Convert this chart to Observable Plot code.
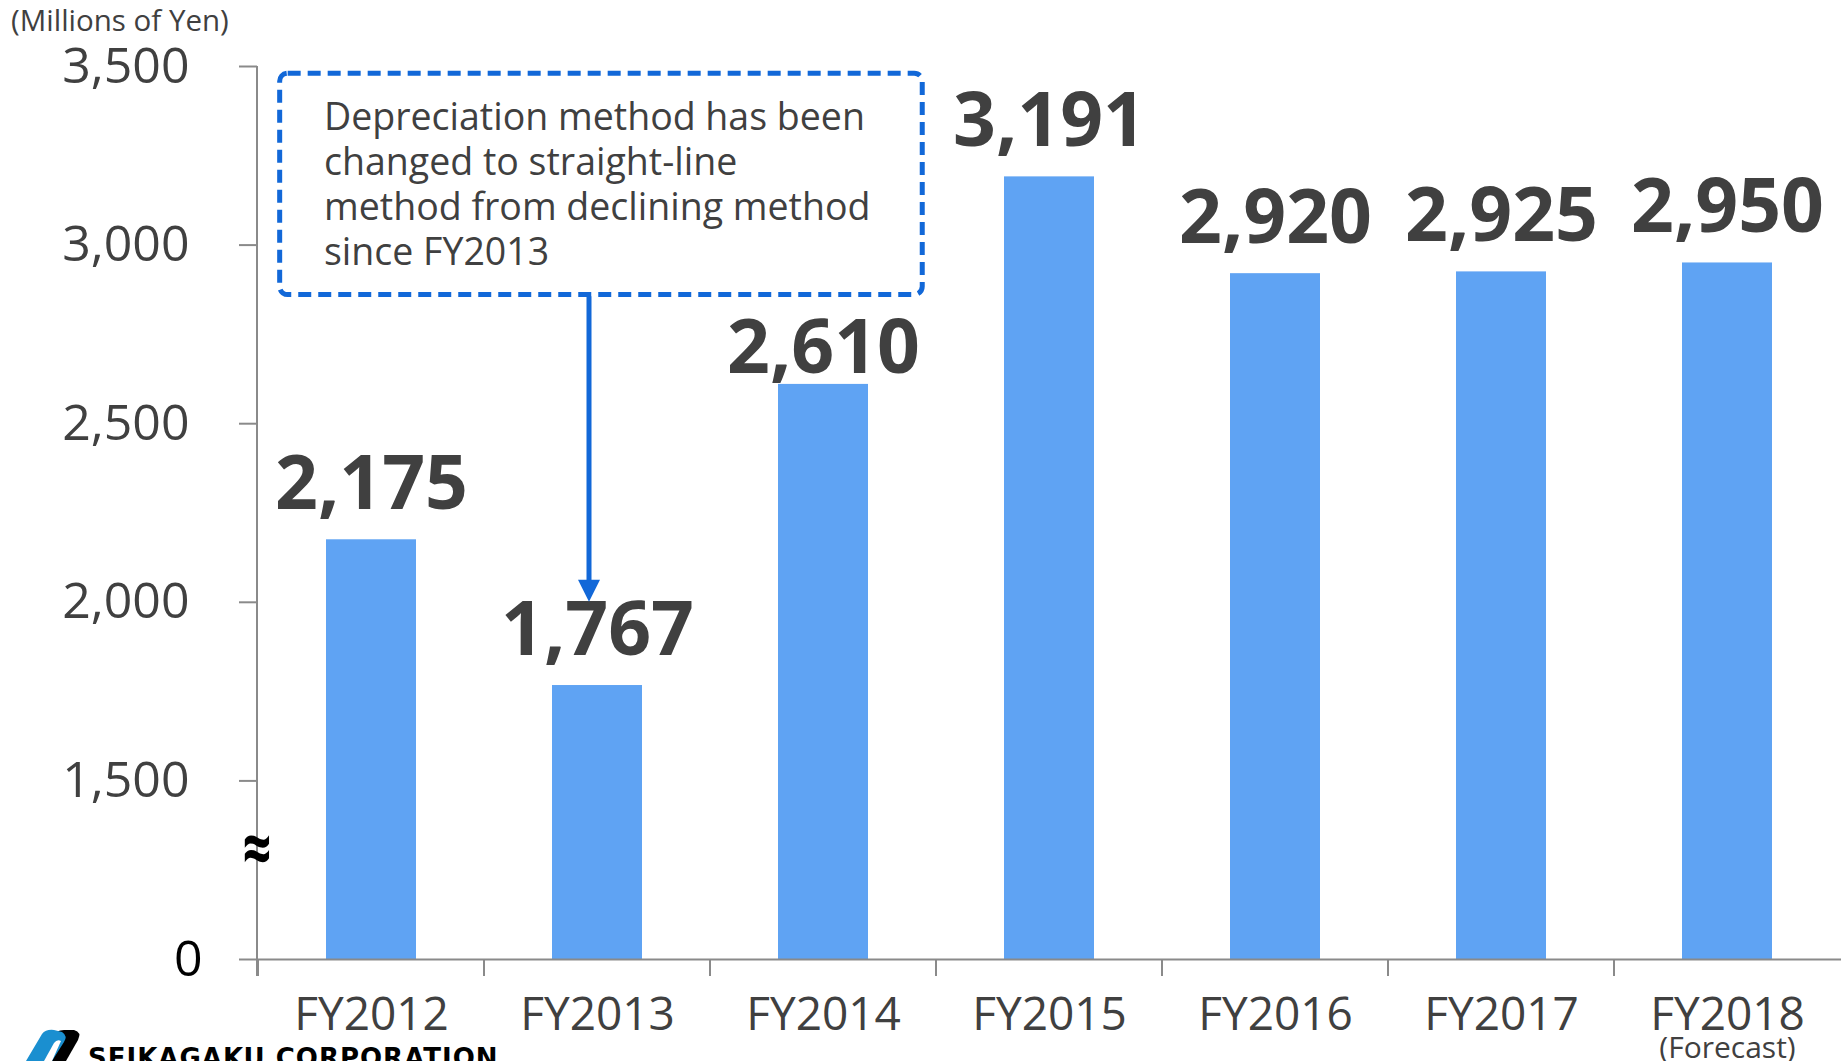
<!DOCTYPE html>
<html>
<head>
<meta charset="utf-8">
<script src="https://cdn.jsdelivr.net/npm/d3@7"></script>
<script src="https://cdn.jsdelivr.net/npm/@observablehq/plot@0.6"></script>
<style>
  html, body { margin: 0; padding: 0; background: #fff; overflow: hidden; }
  #chart { position: relative; width: 1841px; height: 1061px; }
</style>
</head>
<body>
<div id="chart"></div>
<script>
// ---- data ----
const years = ["FY2012", "FY2013", "FY2014", "FY2015", "FY2016", "FY2017", "FY2018"];
const values = [2175, 1767, 2610, 3191, 2920, 2925, 2950];
const yTicks = [1500, 2000, 2500, 3000, 3500];
const zeroTick = [1000];           // axis is broken: position 1000 is labelled "0"
const unitLabel = "(Millions of Yen)";
const forecastNote = { year: "FY2018", text: "(Forecast)" };
const noteLines = ["Depreciation method has been", "changed to straight-line", "method from declining method", "since FY2013"];
const noteBox = { fromYear: "FY2012", toYear: "FY2014", top: 3480, bottom: 2860, arrowYear: "FY2013", arrowTip: 2000 };
const breakMark = { y: 1315, text: "≈" };
const companyName = "SEIKAGAKU CORPORATION";
const loweredLabel = "FY2014";   // its value label sits closer to the bar in the reference

const data = years.map((year, i) => ({ year, value: values[i] }));

const BAR = "#5fa3f3";
const BLUE = "#1268d8";
const GREY = "#8a8a8a";
const TXT = "#404040";
const FONT = "'Open Sans', 'Noto Sans', sans-serif";

const labelOpts = {
  x: "year", y: "value", text: d => d3.format(",")(d.value),
  lineAnchor: "bottom", fontSize: 75, fontWeight: "bold", fill: TXT
};

const plot = Plot.plot({
  width: 1841,
  height: 1061,
  marginLeft: 257,
  marginRight: 0,
  marginTop: 66,
  marginBottom: 102,
  style: { fontFamily: FONT, background: "#fff", overflow: "visible" },
  x: { domain: years, paddingInner: 0.6, paddingOuter: 0.3, label: null },
  y: { domain: [1000, 3500], label: null },
  marks: [
    Plot.barY(data, { x: "year", y1: 1000, y2: "value", fill: BAR }),
    Plot.text(data.filter(d => d.year !== loweredLabel), { ...labelOpts, dy: -31 }),
    Plot.text(data.filter(d => d.year === loweredLabel), { ...labelOpts, dy: -11 }),
    Plot.ruleY([1000], { stroke: GREY, strokeWidth: 2 }),
    Plot.axisY(yTicks, {
      tickSize: 18, tickPadding: 50, fontSize: 50, fill: TXT, stroke: GREY,
      strokeWidth: 2, tickFormat: d3.format(","), label: null
    }),
    Plot.axisY(zeroTick, {
      tickSize: 18, tickPadding: 37, fontSize: 50, fill: "#000", stroke: GREY,
      strokeWidth: 2, tickFormat: () => "0", label: null
    }),
    Plot.axisX({ tickSize: 0, tickPadding: 38, fontSize: 46, fill: TXT, label: null }),
    Plot.text([forecastNote], {
      x: "year", text: "text", frameAnchor: "bottom", dy: 98, lineAnchor: "bottom",
      fontSize: 30, fill: TXT
    })
  ]
});

document.getElementById("chart").appendChild(plot);

// ---- overlays positioned from the plot's scales ----
const sx = plot.scale("x");
const sy = plot.scale("y");
const bw = sx.bandwidth, step = sx.step;
const svg = d3.select(plot);
const yBase = sy.apply(1000);
const x0 = 257;

// y axis line
svg.append("line").attr("x1", x0).attr("x2", x0)
  .attr("y1", sy.apply(3500)).attr("y2", yBase + 17)
  .attr("stroke", GREY).attr("stroke-width", 2);

// x axis ticks at band boundaries
years.forEach(y => {
  const bx = sx.apply(y) - (step - bw) / 2;
  svg.append("line").attr("x1", bx).attr("x2", bx)
    .attr("y1", yBase).attr("y2", yBase + 17)
    .attr("stroke", GREY).attr("stroke-width", 2);
});

// break symbol
const by = sy.apply(breakMark.y);
svg.append("text")
  .attr("transform", `translate(${x0},${by}) scale(1,1.5)`)
  .attr("text-anchor", "middle").attr("dominant-baseline", "central")
  .attr("font-size", 50).attr("font-weight", "bold").attr("fill", "#000")
  .attr("font-family", FONT).text(breakMark.text);

// unit label
svg.append("text").attr("x", 11).attr("y", 31).attr("text-anchor", "start")
  .attr("font-size", 29.5).attr("fill", TXT).attr("font-family", FONT).text(unitLabel);

// annotation box
const bxL = sx.apply(noteBox.fromYear) - 0.205 * step;
const bxR = sx.apply(noteBox.toYear) + bw + 0.24 * step;
const byT = sy.apply(noteBox.top), byB = sy.apply(noteBox.bottom);
svg.append("rect").attr("x", bxL).attr("y", byT)
  .attr("width", bxR - bxL).attr("height", byB - byT)
  .attr("rx", 8).attr("fill", "#fff").attr("stroke", BLUE)
  .attr("stroke-width", 5).attr("stroke-dasharray", "13,7");
const tx = sx.apply(noteBox.fromYear) - 2;
noteLines.forEach((line, i) => {
  svg.append("text").attr("x", tx).attr("y", byT + 57 + i * 45).attr("text-anchor", "start")
    .attr("font-size", 37.5).attr("fill", TXT).attr("font-family", FONT).text(line);
});

// arrow
const ax = sx.apply(noteBox.arrowYear) + bw / 2 - 8;
const tipY = sy.apply(noteBox.arrowTip);
svg.append("line").attr("x1", ax).attr("x2", ax)
  .attr("y1", byB + 2).attr("y2", tipY - 18)
  .attr("stroke", BLUE).attr("stroke-width", 5);
svg.append("path")
  .attr("d", `M${ax - 11},${tipY - 22} L${ax + 11},${tipY - 22} L${ax},${tipY} Z`)
  .attr("fill", BLUE);

// company logo (cut off at the bottom edge, as in the reference)
const logo = svg.append("g");
logo.append("path").attr("d", "M38,1061 L52,1036 Q56,1030 64,1030 L74,1030 Q82,1032 78,1040 L66,1061 Z")
  .attr("fill", "#000");
logo.append("path").attr("d", "M26,1061 L42,1034 Q46,1029 54,1030 L62,1032 Q68,1036 64,1042 L52,1061 Z")
  .attr("fill", "#1a8fd0");
logo.append("path").attr("d", "M44,1061 L54,1043 Q57,1039 61,1041 L52,1061 Z").attr("fill", "#fff");
svg.append("text").attr("x", 88).attr("y", 1067).attr("text-anchor", "start")
  .attr("font-size", 26).attr("font-weight", 900).attr("letter-spacing", 1)
  .attr("fill", "#000").attr("font-family", "'DejaVu Sans', 'Liberation Sans', sans-serif")
  .text(companyName);
</script>
</body>
</html>
